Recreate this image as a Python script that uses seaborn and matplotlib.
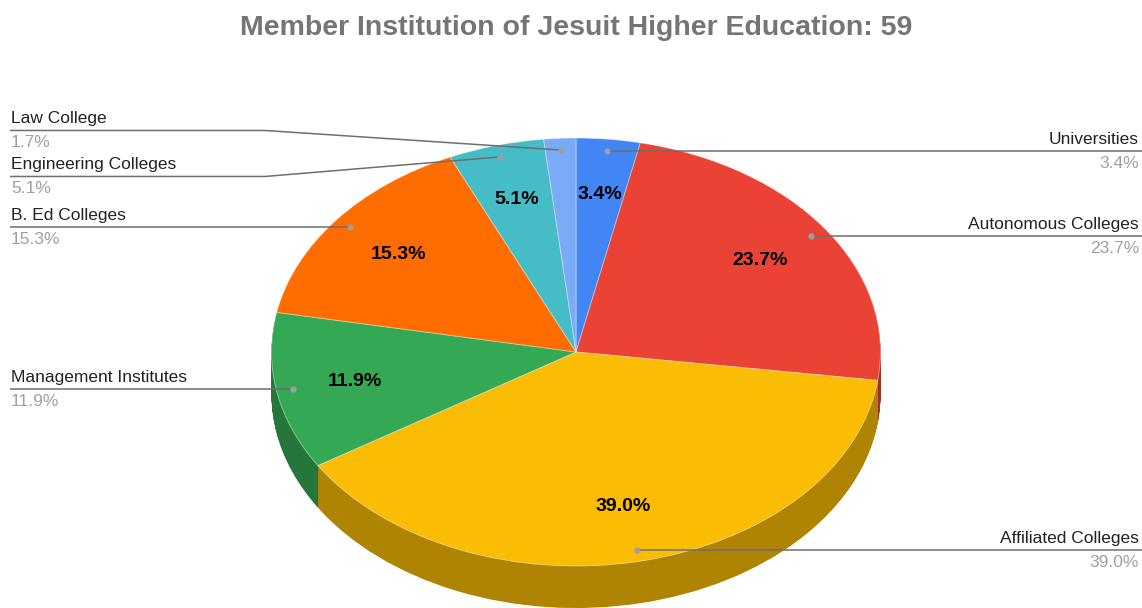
import numpy as np
import matplotlib
matplotlib.use("Agg")
import matplotlib.pyplot as plt
import seaborn as sns

# Data
title = "Member Institution of Jesuit Higher Education: 59"
categories = ["Universities", "Autonomous Colleges", "Affiliated Colleges",
              "Management Institutes", "B. Ed Colleges", "Engineering Colleges",
              "Law College"]
counts = [2, 14, 23, 7, 9, 3, 1]
slice_colors = ["#4285F4", "#EA4335", "#FBBC04", "#34A853",
                "#FF6D01", "#46BDC6", "#7BAAF7"]

sns.set_theme(style="white")
plt.rcParams["font.family"] = ["Liberation Sans", "DejaVu Sans"]

W, H = 1142, 608
CX, CY = 576.0, 352.0      # centre of the top face (pixels)
RX, RY = 304.5, 214.0      # radii of the tilted disc (pixels)
DEPTH = 42                 # thickness of the disc (pixels)
K = RX / RY                # vertical squash factor

def to_data(px, py):
    return px, (H - py) * K

palette = sns.color_palette(slice_colors)
side_palette = [tuple(0.7 * c for c in col) for col in palette]

fig = plt.figure(figsize=(W / 100, H / 100), dpi=100)
ax = fig.add_axes([0, 0, 1, 1])

# Side wall: stacked darker discs below the top face
for d in np.arange(DEPTH, 0, -0.5):
    ax.pie(counts, colors=side_palette, startangle=90, counterclock=False,
           radius=RX, center=to_data(CX, CY + d), frame=False,
           wedgeprops=dict(linewidth=0))

# Top face
ax.pie(counts, colors=palette, startangle=90, counterclock=False,
       radius=RX, center=to_data(CX, CY), frame=False,
       wedgeprops=dict(edgecolor=(1, 1, 1, 0.5), linewidth=0.6))

ax.set_aspect("auto")
ax.set_xlim(0, W)
ax.set_ylim(0, H * K)
ax.axis("off")

total = sum(counts)
pcts = [100.0 * c / total for c in counts]
cum = np.cumsum([0] + counts)
mid_angles = [np.deg2rad(360.0 * (cum[i] + counts[i] / 2) / total) for i in range(len(counts))]

def on_disc(theta, f):
    return CX + RX * f * np.sin(theta), CY - RY * f * np.cos(theta)

# Percentages inside the slices
for theta, p in zip(mid_angles, pcts):
    if p < 3:
        continue
    px, py = on_disc(theta, 0.74)
    ax.text(*to_data(px, py), f"{p:.1f}%", ha="center", va="center",
            fontsize=14, fontweight="bold", color="black")

# Leader lines and outside labels
dots = [on_disc(t, 0.945) for t in mid_angles]
right = [i for i, t in enumerate(mid_angles) if np.sin(t) > 0]
left = [i for i, t in enumerate(mid_angles) if np.sin(t) <= 0]

label_y = {i: dots[i][1] for i in range(len(counts))}
MIN_GAP = 46
order = sorted(left, key=lambda i: dots[i][1])
for _ in range(50):
    for a, b in zip(order[:-1], order[1:]):
        gap = label_y[b] - label_y[a]
        if gap < MIN_GAP:
            shift = (MIN_GAP - gap) / 2
            label_y[a] -= shift
            label_y[b] += shift

line_col = "#6e6e6e"
dot_col = "#9e9e9e"
name_col = "#222222"
pct_col = "#a0a0a0"
ELBOW_X = 265

for i in right:
    dx, dy = dots[i]
    ly = label_y[i]
    ax.plot(*zip(to_data(dx, dy), to_data(W, ly)), color=line_col, lw=1.1,
            solid_capstyle="butt")
    ax.plot(*to_data(dx, dy), "o", ms=4.5, color=dot_col, mec="none")
    ax.text(*to_data(1139, ly - 4), categories[i], ha="right", va="bottom",
            fontsize=12.5, color=name_col)
    ax.text(*to_data(1139, ly + 5), f"{pcts[i]:.1f}%", ha="right", va="top",
            fontsize=12.5, color=pct_col)

for i in left:
    dx, dy = dots[i]
    ly = label_y[i]
    if abs(ly - dy) > 0.5:
        pts = [to_data(10, ly), to_data(ELBOW_X, ly), to_data(dx, dy)]
    else:
        pts = [to_data(10, ly), to_data(dx, dy)]
    xs, ys = zip(*pts)
    ax.plot(xs, ys, color=line_col, lw=1.1, solid_capstyle="butt")
    ax.plot(*to_data(dx, dy), "o", ms=4.5, color=dot_col, mec="none")
    ax.text(*to_data(11, ly - 4), categories[i], ha="left", va="bottom",
            fontsize=12.5, color=name_col)
    ax.text(*to_data(11, ly + 5), f"{pcts[i]:.1f}%", ha="left", va="top",
            fontsize=12.5, color=pct_col)

fig.text(576 / W, 1 - 28 / H, title, ha="center", va="center",
         fontsize=20.5, fontweight="bold", color="#757575")

fig.savefig("out.png", dpi=100)
